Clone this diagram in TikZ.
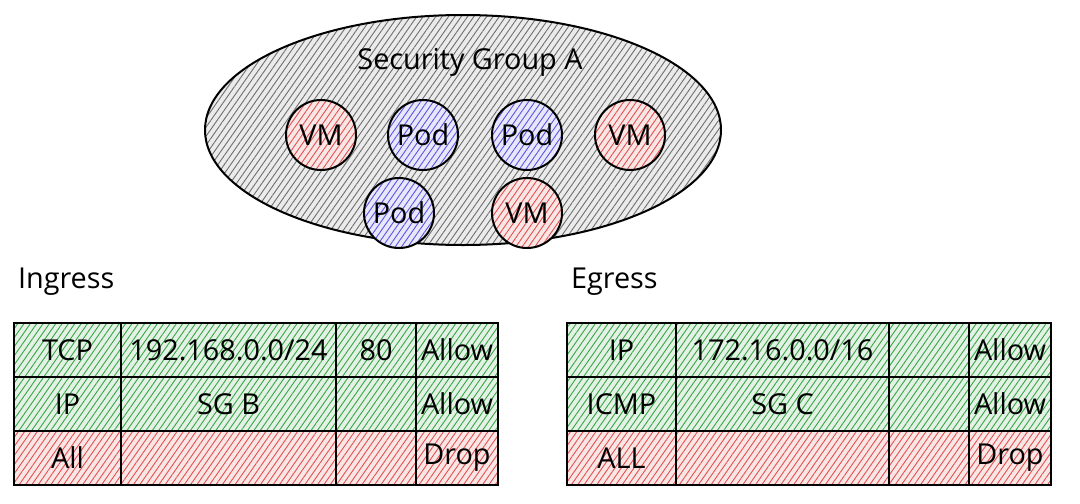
\documentclass[tikz,border=0pt]{standalone}
\usepackage{fontspec}
\setmainfont{Open Sans}
\usepackage{tikz}
\usetikzlibrary{shapes.geometric,patterns.meta}

\definecolor{okgreen}{RGB}{55,165,70}
\definecolor{dropred}{RGB}{225,80,80}
\definecolor{podblue}{RGB}{90,85,225}
\definecolor{sggray}{RGB}{110,110,110}

\tikzset{
  hatch/.style={preaction={fill=#1!14}, pattern={Lines[angle=55,distance=2.6pt,line width=0.45pt]}, pattern color=#1},
  group/.style={ellipse, draw, line width=1pt, hatch=sggray},
  member/.style={circle, draw, line width=1pt, minimum size=35pt, inner sep=0pt, font=\Large},
  vm/.style={member, hatch=dropred},
  pod/.style={member, hatch=podblue},
  cell/.style={draw, line width=1pt, inner sep=0pt, anchor=north west, minimum height=27pt, font=\Large},
  heading/.style={anchor=west, font=\Large}
}

\begin{document}
\begin{tikzpicture}[x=0.5pt, y=-0.5pt]
        \useasboundingbox (0,0) rectangle (1080,503);
        \node[group, minimum width=258pt, minimum height=115pt] (sg) at (463,130) {};
        \node[font=\Large] (sgtitle) at (470,62) {Security Group A};
        \node[vm] (vm1) at (321,135) {VM};
        \node[pod] (pod1) at (423,135) {Pod};
        \node[pod] (pod2) at (527,135) {Pod};
        \node[vm] (vm2) at (630,135) {VM};
        \node[pod] (pod3) at (399,213) {Pod};
        \node[vm] (vm3) at (527,213) {VM};
        \node[heading] (ingress) at (11,282) {Ingress};
        \node[heading] (egress) at (564,282) {Egress};
        \foreach \yy/\clr/\proto/\addr/\port/\act [count=\r] in
            {322/okgreen/TCP/{192.168.0.0/24}/80/Allow,
             376/okgreen/IP/SG B//Allow,
             430/dropred/All///Drop} {
          \node[cell, hatch=\clr, minimum width=53.5pt] (in\r a) at (13,\yy) {\proto};
          \node[cell, hatch=\clr, minimum width=107.5pt] (in\r b) at (120,\yy) {\addr};
          \node[cell, hatch=\clr, minimum width=40pt] (in\r c) at (335,\yy) {\port};
          \node[cell, hatch=\clr, minimum width=41pt] (in\r d) at (415,\yy) {\act};
        }
        \foreach \yy/\clr/\proto/\addr/\act [count=\r] in
            {322/okgreen/IP/{172.16.0.0/16}/Allow,
             376/okgreen/ICMP/SG C/Allow,
             430/dropred/ALL//Drop} {
          \node[cell, hatch=\clr, minimum width=54.5pt] (eg\r a) at (566,\yy) {\proto};
          \node[cell, hatch=\clr, minimum width=106.5pt] (eg\r b) at (675,\yy) {\addr};
          \node[cell, hatch=\clr, minimum width=40pt] (eg\r c) at (888,\yy) {};
          \node[cell, hatch=\clr, minimum width=41pt] (eg\r d) at (968,\yy) {\act};
        }
    \end{tikzpicture}
\end{document}
